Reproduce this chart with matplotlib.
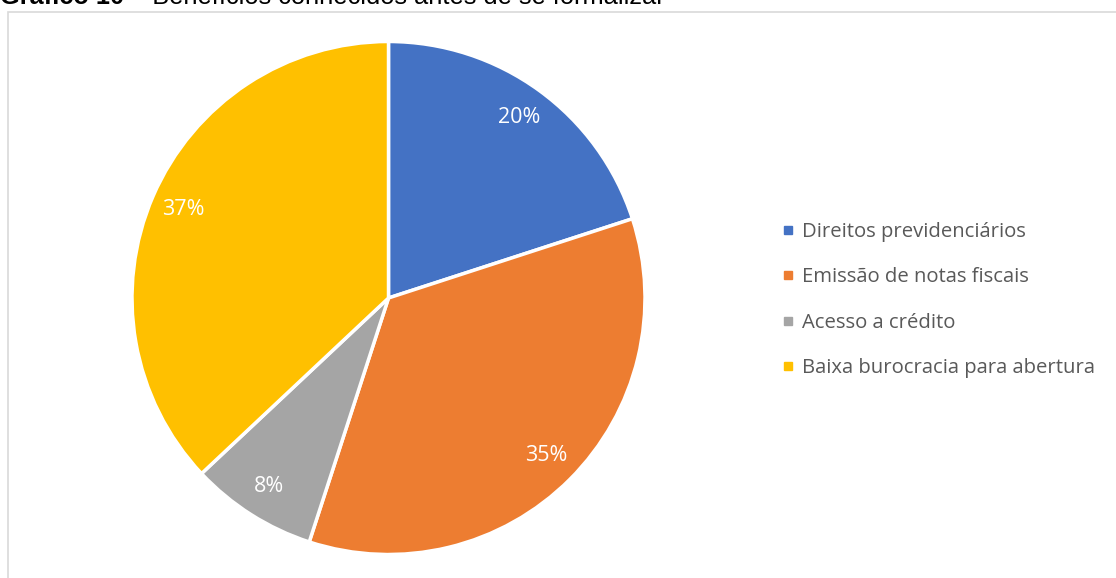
import matplotlib
matplotlib.use("Agg")
import matplotlib.pyplot as plt
from matplotlib.lines import Line2D
from matplotlib.patches import Rectangle

categories = ["Direitos previdenciários", "Emissão de notas fiscais",
              "Acesso a crédito", "Baixa burocracia para abertura"]
values = [20, 35, 8, 37]
colors = ["#4472C4", "#ED7D31", "#A5A5A5", "#FFC000"]
title_bold = "Gráfico 10"
title_rest = " – Benefícios conhecidos antes de se formalizar"

W, H = 1116, 578
fig = plt.figure(figsize=(W / 100, H / 100), dpi=100)

# chart border
fig.patches.append(Rectangle((7.5 / W, -0.05), 1.2, 1 - 12 / H + 0.05,
                             transform=fig.transFigure, fill=False,
                             edgecolor="#D9D9D9", linewidth=1.2))

# title (partly cut off at the top, as in the reference)
t = fig.text(0.0, 1 - 4 / H, title_bold, fontsize=18.3, fontweight="bold",
             family="Liberation Sans", va="baseline", ha="left")
fig.canvas.draw()
bb = t.get_window_extent()
fig.text(bb.x1 / W, 1 - 4 / H, title_rest, fontsize=18.3,
         family="Liberation Sans", va="baseline", ha="left")

cx, cy, r = 388.5, 298, 256.5
ax = fig.add_axes([(cx - r) / W, (H - cy - r) / H, 2 * r / W, 2 * r / H])
wedges, texts, autotexts = ax.pie(
    values, colors=colors, startangle=90, counterclock=False,
    autopct=lambda p: f"{p:.0f}%", pctdistance=0.87,
    wedgeprops=dict(edgecolor="white", linewidth=2.5),
    textprops=dict(color="white", fontsize=15.5, family="Open Sans"))
ax.set_xlim(-1, 1)
ax.set_ylim(-1, 1)
ax.set_aspect("equal")
ax.axis("off")

handles = [Line2D([], [], marker="s", linestyle="none", markersize=6,
                  markerfacecolor=c, markeredgecolor=c) for c in colors]
leg = fig.legend(handles, categories, loc="upper left",
                 bbox_to_anchor=(782 / W, 1 - 222 / H), frameon=False,
                 prop=dict(family="Open Sans", size=14.6),
                 labelspacing=1.25, handlelength=0.6, handletextpad=0.4,
                 borderpad=0, borderaxespad=0)
for txt in leg.get_texts():
    txt.set_color("#595959")

fig.savefig("out.png", dpi=100)
